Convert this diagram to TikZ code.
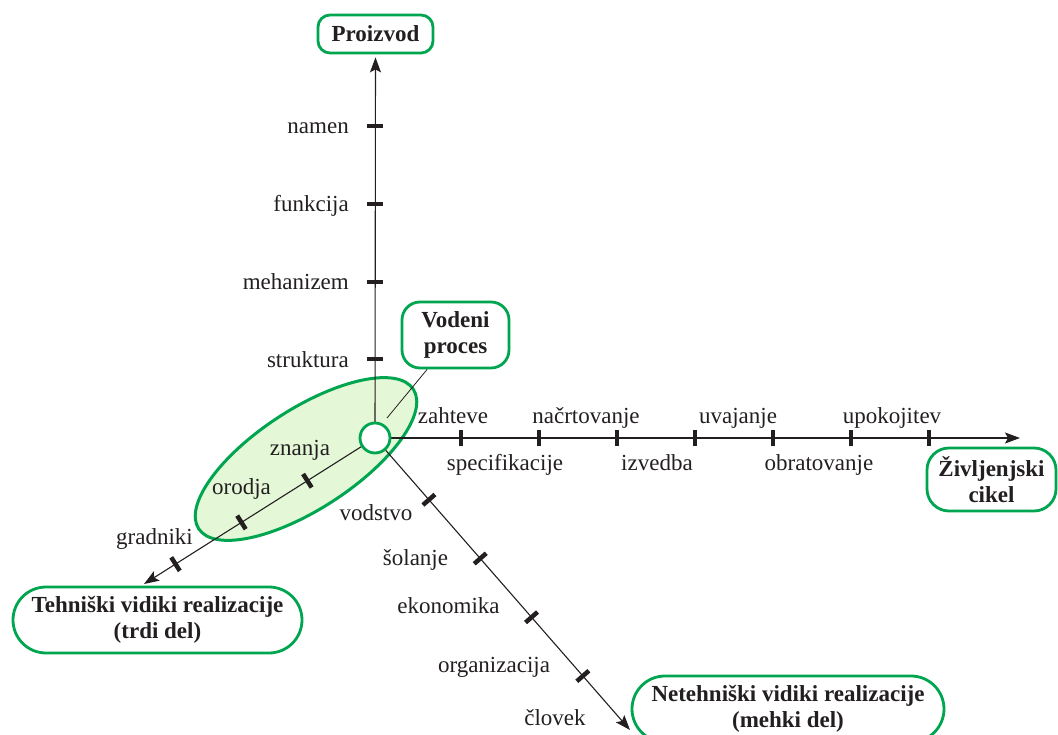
\documentclass[tikz,border=0pt]{standalone}
\usepackage{fontspec}
\setmainfont{Liberation Serif}
\usetikzlibrary{shapes.geometric,arrows.meta,calc}
\definecolor{vgreen}{RGB}{0,165,80}
\definecolor{vfill}{RGB}{228,248,216}
\definecolor{ink}{RGB}{35,31,32}
\begin{document}
\begin{tikzpicture}[x=1pt,y=-1pt,
  font=\fontsize{23}{26}\selectfont, text=ink,
  axis/.style={line width=1.1pt, draw=ink},
  tip/.style={-{Stealth[length=15pt,width=11pt,inset=3pt]}},
  tickbar/.style={fill=ink, inner sep=0, minimum width=16pt, minimum height=4.5pt, draw=none},
  gbox/.style={draw=vgreen, line width=2.8pt, fill=white, align=center, font=\fontsize{23}{26}\selectfont\bfseries, inner sep=0},
  lbl/.style={inner sep=0}
]
\useasboundingbox (0,0) rectangle (1058,735);

% knowledge ellipse
\node[ellipse, draw=vgreen, fill=vfill, line width=3pt, minimum width=256pt, minimum height=100pt, rotate=33, inner sep=0] (ell) at (306,459) {};

% boxes
\node[gbox, minimum width=115pt, minimum height=38pt, rounded corners=12pt] (proizvod) at (375.5,34) {Proizvod};
\node[gbox, minimum width=107pt, minimum height=66pt, rounded corners=18pt] (vodeni) at (455.5,335) {Vodeni\\proces};
\node[gbox, minimum width=129pt, minimum height=63pt, rounded corners=22pt] (zivl) at (991.5,479.5) {Življenjski\\cikel};
\node[gbox, minimum width=289pt, minimum height=66pt, rounded corners=33pt] (teh) at (157.5,620) {Tehniški vidiki realizacije\\(trdi del)};
\node[gbox, minimum width=312pt, minimum height=66pt, rounded corners=33pt] (neteh) at (788,709) {Netehniški vidiki realizacije\\(mehki del)};

% axes
\coordinate (o) at (375,438);
\coordinate (xend) at (1020,438);
\coordinate (llend) at (144,584);
\coordinate (lrend) at (630,730);
\coordinate (vp) at (387,418);
\draw[axis,tip,shorten >=3pt] (o) -- (proizvod.south);
\draw[axis,tip] (o) -- (xend);
\draw[axis,tip] (o) -- (llend);
\draw[axis,tip] (o) -- (lrend);
\draw[line width=0.8pt, draw=ink] (vp) -- (vodeni);

\node[circle, draw=vgreen, fill=white, line width=2.8pt, minimum size=30pt, inner sep=0] (c) at (o) {};

% ticks
\foreach \y in {126,204,282,359} \node[tickbar] at (375,\y) {};
\foreach \x in {461,539,617,695,773,851,929} \node[tickbar, rotate=90] at (\x,438) {};
\foreach \d in {80,158,236} \node[tickbar, rotate=-57.7] at ($(o)!\d pt!(llend)$) {};
\foreach \d in {82,160,238,316} \node[tickbar, rotate=41.1] at ($(o)!\d pt!(lrend)$) {};

% vertical labels
\node[lbl, anchor=base east] (l1) at (349,134) {namen};
\node[lbl, anchor=base east] (l2) at (349,212) {funkcija};
\node[lbl, anchor=base east] (l3) at (349,290) {mehanizem};
\node[lbl, anchor=base east] (l4) at (349,367) {struktura};

% horizontal labels
\node[lbl, anchor=base] (h1) at (453,424) {zahteve};
\node[lbl, anchor=base] (h2) at (505,470) {specifikacije};
\node[lbl, anchor=base] (h3) at (586,424) {načrtovanje};
\node[lbl, anchor=base] (h4) at (657,470) {izvedba};
\node[lbl, anchor=base] (h5) at (738,424) {uvajanje};
\node[lbl, anchor=base] (h6) at (819,470) {obratovanje};
\node[lbl, anchor=base] (h7) at (892,424) {upokojitev};

% lower-left labels
\node[lbl, anchor=base] (t1) at (300,455) {znanja};
\node[lbl, anchor=base] (t2) at (241.5,494) {orodja};
\node[lbl, anchor=base] (t3) at (154.5,544) {gradniki};

% lower-right labels
\node[lbl, anchor=base] (s1) at (376,520) {vodstvo};
\node[lbl, anchor=base] (s2) at (415.5,565) {šolanje};
\node[lbl, anchor=base] (s3) at (448.5,613) {ekonomika};
\node[lbl, anchor=base] (s4) at (494,672) {organizacija};
\node[lbl, anchor=base] (s5) at (555,725) {človek};
\end{tikzpicture}
\end{document}
